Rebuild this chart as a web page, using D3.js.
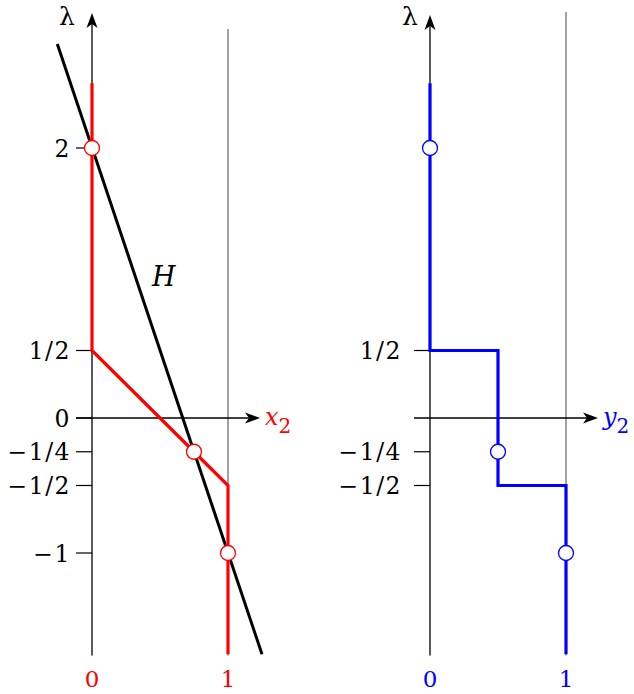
<!DOCTYPE html>
<html>
<head>
<meta charset="utf-8">
<script src="https://cdn.jsdelivr.net/npm/d3@7"></script>
<style>
  body { margin: 0; background: #fff; }
  text { font-family: 'DejaVu Serif', 'Liberation Serif', serif; }
</style>
</head>
<body>
<div class="dataviz"></div>
<script>
// data
const leftTicks = [2, 0.5, 0, -0.25, -0.5, -1]
const leftTickLabels = ['2', '1/2', '0', '−1/4', '−1/2', '−1']
const rightTicks = [0.5, -0.25, -0.5]
const rightTickLabels = ['1/2', '−1/4', '−1/2']
const xTicks = [0, 1]
const xTickLabels = ['0', '1']

const x2Path = [[0, 2.48], [0, 0.5], [0.75, -0.25], [1, -0.5], [1, -1.75]]
const y2Path = [[0, 2.48], [0, 0.5], [0.5, 0.5], [0.5, -0.5], [1, -0.5], [1, -1.75]]
const hLine = [[-0.255, 2.77], [1.25, -1.75]]
const x2Points = [[0, 2], [0.75, -0.25], [1, -1]]
const y2Points = [[0, 2], [0.5, -0.25], [1, -1]]

const width = 634
const height = 694

const svg = d3.select('.dataviz').append('svg')
  .attr('width', width).attr('height', height)

const yScale = d3.scaleLinear().domain([0, 2]).range([418, 148])

const arrow = (g, x, y, dir) => {
  // stealth-like arrowhead, tip at (x,y)
  const p = dir === 'up'
    ? `M${x},${y} L${x + 5.5},${y + 15} L${x},${y + 11} L${x - 5.5},${y + 15} Z`
    : `M${x},${y} L${x - 15},${y + 5.5} L${x - 11},${y} L${x - 15},${y - 5.5} Z`
  g.append('path').attr('d', p).attr('fill', '#000')
}

const drawPanel = (opts) => {
  const { x0, color, path, points, ticks, tickLabels, varName, oneTop, hasH, axisTop, labelGap, lambdaX } = opts
  const xScale = d3.scaleLinear().domain([0, 1]).range([x0, x0 + 136])
  const g = svg.append('g')
  const bottom = yScale(-1.76)

  // vertical line at 1
  g.append('line')
    .attr('x1', xScale(1)).attr('x2', xScale(1))
    .attr('y1', oneTop).attr('y2', bottom)
    .attr('stroke', '#555').attr('stroke-width', 1.1)

  // y axis
  g.append('line')
    .attr('x1', xScale(0)).attr('x2', xScale(0))
    .attr('y1', bottom).attr('y2', axisTop + 8)
    .attr('stroke', '#000').attr('stroke-width', 1.3)
  arrow(g, xScale(0), axisTop, 'up')
  g.append('text')
    .attr('x', lambdaX).attr('y', 25)
    .attr('text-anchor', 'middle')
    .attr('font-size', 25)
    .text('λ')

  // x axis
  const xEnd = xScale(0) + 168
  g.append('line')
    .attr('x1', xScale(0) - 16).attr('x2', xEnd - 8)
    .attr('y1', yScale(0)).attr('y2', yScale(0))
    .attr('stroke', '#000').attr('stroke-width', 1.3)
  arrow(g, xEnd, yScale(0), 'right')
  const lab = g.append('text')
    .attr('x', xEnd + 5).attr('y', yScale(0) + 7)
    .attr('font-size', 24).attr('fill', color)
  lab.append('tspan').attr('font-style', 'italic').text(varName)
  lab.append('tspan').attr('dy', 8).attr('font-size', 20).text('2')

  // y ticks
  ticks.forEach((t, i) => {
    g.append('line')
      .attr('x1', xScale(0) - 16).attr('x2', xScale(0))
      .attr('y1', yScale(t)).attr('y2', yScale(t))
      .attr('stroke', '#000').attr('stroke-width', 1.2)
    g.append('text')
      .attr('x', xScale(0) - labelGap).attr('y', yScale(t) + 8.5)
      .attr('text-anchor', 'end')
      .attr('font-size', 23.5)
      .attr('letter-spacing', 1.5)
      .text(tickLabels[i])
  })

  // x tick labels
  xTicks.forEach((t, i) => {
    g.append('text')
      .attr('x', xScale(t)).attr('y', 687)
      .attr('text-anchor', 'middle')
      .attr('font-size', 23).attr('fill', color)
      .text(xTickLabels[i])
  })

  const line = d3.line().x(d => xScale(d[0])).y(d => yScale(d[1]))

  if (hasH) {
    g.append('path').datum(hLine).attr('d', line)
      .attr('fill', 'none').attr('stroke', '#000').attr('stroke-width', 3)
    g.append('text')
      .attr('x', 152).attr('y', 286)
      .attr('font-size', 27).attr('font-style', 'italic')
      .text('H')
  }

  g.append('path').datum(path).attr('d', line)
    .attr('fill', 'none').attr('stroke', color).attr('stroke-width', 3.2)
    .attr('stroke-linejoin', 'miter')

  g.selectAll('circle').data(points).enter().append('circle')
    .attr('cx', d => xScale(d[0])).attr('cy', d => yScale(d[1]))
    .attr('r', 7.5)
    .attr('fill', '#fff').attr('stroke', color).attr('stroke-width', 1.3)
}

drawPanel({
  x0: 92, color: '#ff0000', path: x2Path, points: x2Points,
  ticks: leftTicks, tickLabels: leftTickLabels, varName: 'x',
  oneTop: 29, hasH: true, axisTop: 13, labelGap: 21, lambdaX: 67
})

drawPanel({
  x0: 430, color: '#0000ff', path: y2Path, points: y2Points,
  ticks: rightTicks, tickLabels: rightTickLabels, varName: 'y',
  oneTop: 12, hasH: false, axisTop: 15, labelGap: 28, lambdaX: 410
})
</script>
</body>
</html>
